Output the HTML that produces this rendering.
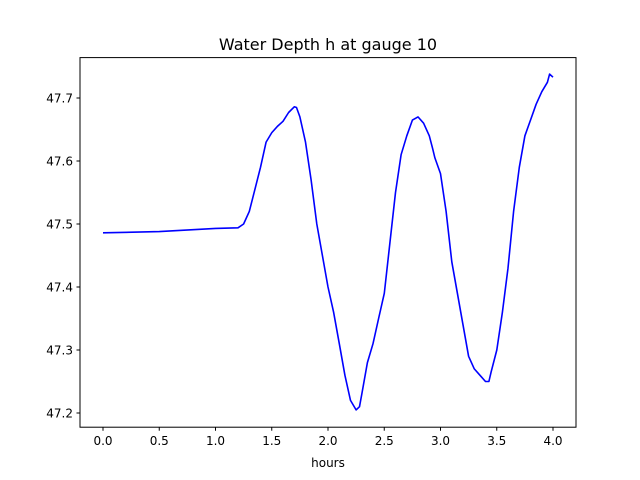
<!DOCTYPE html>
<html><head><meta charset="utf-8"><style>body{margin:0;background:#fff}svg{display:block;font-family:"DejaVu Sans","Liberation Sans",sans-serif}</style></head>
<body>
<svg id="chart" width="640" height="480">
<rect width="640" height="480" fill="#fff"/>
<text x="328" y="50" font-size="16" text-anchor="middle">Water Depth h at gauge 10</text>
<g id="plot"></g>
<rect x="80" y="57.6" width="496" height="369.6" fill="none" stroke="#000" stroke-width="1"/>
<text x="328" y="467" font-size="12" text-anchor="middle">hours</text>
</svg>
<script>
const xs=[0,0.5,1.0,1.2,1.25,1.3,1.35,1.4,1.45,1.5,1.55,1.6,1.65,1.7,1.72,1.75,1.8,1.85,1.9,1.95,2.0,2.05,2.1,2.15,2.2,2.25,2.28,2.3,2.35,2.4,2.45,2.5,2.55,2.6,2.65,2.7,2.75,2.8,2.85,2.9,2.93,2.95,3.0,3.05,3.1,3.15,3.2,3.25,3.3,3.35,3.4,3.43,3.45,3.5,3.55,3.6,3.65,3.7,3.75,3.8,3.85,3.9,3.95,3.97,4.0];
const ys=[47.486,47.488,47.493,47.494,47.5,47.52,47.555,47.59,47.63,47.645,47.655,47.663,47.677,47.686,47.685,47.67,47.63,47.57,47.5,47.45,47.40,47.36,47.31,47.26,47.22,47.205,47.21,47.23,47.28,47.31,47.35,47.39,47.47,47.55,47.61,47.64,47.665,47.67,47.66,47.64,47.62,47.605,47.58,47.52,47.44,47.39,47.34,47.29,47.27,47.26,47.25,47.25,47.265,47.3,47.36,47.43,47.52,47.59,47.64,47.665,47.69,47.71,47.725,47.738,47.733];
const xTicks=[0,0.5,1.0,1.5,2.0,2.5,3.0,3.5,4.0];
const yTicks=[47.2,47.3,47.4,47.5,47.6,47.7];
const X=v=>103+v*112.5;
const Y=v=>413-(v-47.2)*630;
const g=document.getElementById('plot');
const NS='http://www.w3.org/2000/svg';
function mk(t,a){const e=document.createElementNS(NS,t);for(const k in a)e.setAttribute(k,a[k]);g.appendChild(e);return e;}
xTicks.forEach(t=>{
 const l=mk('line',{x1:X(t),x2:X(t),y1:427.2,y2:430.7,stroke:'#000'});
 
 
 const s=mk('text',{x:X(t),y:445,'font-size':12,'text-anchor':'middle'});s.textContent=t.toFixed(1);
 
 
});
yTicks.forEach(t=>{
 const l=mk('line',{x1:76.5,x2:80,y1:Y(t),y2:Y(t),stroke:'#000'});
 
 
 const s=mk('text',{x:73,y:Y(t)+4.5,'font-size':12,'text-anchor':'end'});s.textContent=t.toFixed(1);
 
 
});
const p=mk('path',{d:xs.map((x,i)=>(i?'L':'M')+X(x).toFixed(1)+' '+Y(ys[i]).toFixed(1)).join(''),fill:'none',stroke:'#0000ff','stroke-width':1.6,'stroke-linejoin':'round'});


</script>
</body></html>
